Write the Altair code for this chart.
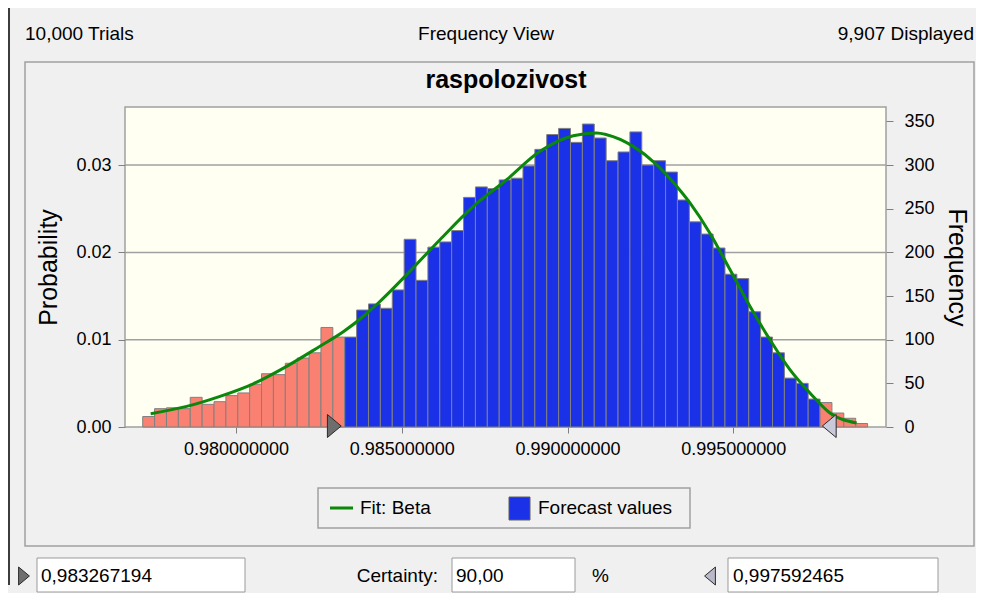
import altair as alt
import pandas as pd

FONT = "Liberation Sans"

# ---------------- text ----------------
trials_text = "10,000 Trials"
view_text = "Frequency View"
displayed_text = "9,907 Displayed"
chart_title = "raspolozivost"
prob_title = "Probability"
freq_title = "Frequency"
legend_fit = "Fit: Beta"
legend_forecast = "Forecast values"
certainty_label = "Certainty:"
certainty_value = "90,00"
percent_sign = "%"
cert_low_text = "0,983267194"
cert_high_text = "0,997592465"

# ---------------- data ----------------
bin_first = 0.977187
bin_width = 0.0003584
frequencies = [12, 21, 22, 21, 34, 26, 29, 36, 39, 49, 61, 60, 73, 79, 85, 114, 103,
               103, 134, 141, 136, 157, 215, 168, 206, 212, 225, 263, 275, 273, 283, 285,
               299, 318, 335, 342, 326, 347, 331, 305, 315, 338, 300, 305, 292, 260, 235,
               221, 205, 175, 170, 132, 103, 85, 56, 50, 32,
               28, 16, 10, 4]
cert_low = 0.983267194
cert_high = 0.997592465

fit_x = [0.977428, 0.978514, 0.979518, 0.980522, 0.981529, 0.982534, 0.983236, 0.983942,
         0.984292, 0.985148, 0.986152, 0.987157, 0.988164, 0.989168, 0.990172, 0.990878,
         0.991180, 0.991982, 0.992687, 0.993290, 0.993692, 0.994295, 0.994898, 0.995501,
         0.996104, 0.996707, 0.997311, 0.997914, 0.998719]
fit_freq = [15.2, 23.6, 35.1, 49.5, 69.5, 92.5, 109, 130, 142, 174.5, 214.5, 252.6, 283.2,
            315.7, 333.6, 336.7, 334.8, 321.4, 300.5, 275.7, 256.6, 222, 180.3, 138.3,
            100.1, 65.7, 39, 16.1, 4.6]

x_ticks = [0.980, 0.985, 0.990, 0.995]
prob_ticks = [0.00, 0.01, 0.02, 0.03]
grid_ticks = [0.01, 0.02, 0.03]
freq_ticks = [0, 50, 100, 150, 200, 250, 300, 350]

x_domain = [0.976653, 0.999605]
freq_domain = [0, 366.5]
prob_domain = [0, 0.03665]

BLUE = "#1b31e8"
SALMON = "#fa8072"
GREEN = "#0b870b"
GRAY = "#a0a0a0"

starts = [bin_first + i * bin_width for i in range(len(frequencies))]
bars_df = pd.DataFrame({
    "start": starts,
    "end": [s + bin_width for s in starts],
    "freq": frequencies,
    "base": [0] * len(frequencies),
})
bars_df["region"] = [
    "Forecast values" if cert_low <= s + bin_width / 2 <= cert_high else "tail"
    for s in starts
]
fit_df = pd.DataFrame({"x": fit_x, "f": fit_freq})

x_scale = alt.Scale(domain=x_domain, nice=False, zero=False)
freq_scale = alt.Scale(domain=freq_domain, nice=False)
prob_scale = alt.Scale(domain=prob_domain, nice=False)

one = pd.DataFrame({"k": [0]})


def txt(s, x, y, size, align="left", weight="normal", angle=0):
    return alt.Chart(one).mark_text(
        align=align, baseline="middle", fontSize=size, fontWeight=weight,
        color="black", font=FONT, angle=angle
    ).encode(x=alt.value(x), y=alt.value(y), text=alt.value(s))


def box(x1, x2, y1, y2, fill, stroke, sw=1.0, opacity=1.0):
    return alt.Chart(one).mark_rect(
        fill=fill, stroke=stroke, strokeWidth=sw, fillOpacity=opacity
    ).encode(x=alt.value(x1), x2=alt.value(x2), y=alt.value(y1), y2=alt.value(y2))


RIGHT_TRI = "M -0.6 -1 L 0.6 0 L -0.6 1 Z"
LEFT_TRI = "M 0.6 -1 L -0.6 0 L 0.6 1 Z"

# grid + left axis (probability)
grid = alt.Chart(pd.DataFrame({"p": grid_ticks})).mark_rule(
    color=GRAY, strokeWidth=1.5
).encode(
    y=alt.Y("p:Q", scale=prob_scale, axis=alt.Axis(
        orient="left", values=prob_ticks, format=".2f", title=prob_title,
        labelFontSize=18, labelColor="black", labelFont=FONT, labelPadding=7,
        tickSize=7, tickColor="#808080", domain=False, grid=False,
        titleFontSize=25, titleFontWeight="normal", titleFont=FONT,
        titleColor="black", titlePadding=14)),
)

bars = alt.Chart(bars_df).mark_rect(stroke="#808080", strokeWidth=1).encode(
    x=alt.X("start:Q", scale=x_scale, axis=alt.Axis(
        values=x_ticks, format=".9f", title=None, labelFontSize=18,
        labelColor="black", labelFont=FONT, labelPadding=7, tickSize=6,
        tickColor="#808080", domain=False, grid=False)),
    x2="end:Q",
    y=alt.Y("freq:Q", scale=freq_scale, axis=alt.Axis(
        orient="right", values=freq_ticks, format="d", title=freq_title,
        labelFontSize=18, labelColor="black", labelFont=FONT, labelPadding=11,
        tickSize=7, tickColor="#808080", domain=False, grid=False,
        titleFontSize=25, titleFontWeight="normal", titleFont=FONT,
        titleColor="black", titlePadding=9)),
    y2="base:Q",
    color=alt.Color("region:N", scale=alt.Scale(
        domain=["Forecast values", "tail"], range=[BLUE, SALMON]), legend=None),
)

fit = alt.Chart(fit_df).mark_line(
    color=GREEN, strokeWidth=3, interpolate="monotone"
).encode(
    x=alt.X("x:Q", scale=x_scale),
    y=alt.Y("f:Q", scale=freq_scale, axis=None),
)

low_marker = alt.Chart(pd.DataFrame({"v": [cert_low]})).mark_point(
    shape=RIGHT_TRI, size=529, filled=True, fill="#6e6e6e", stroke="#2a2a2a",
    strokeWidth=1, opacity=1, xOffset=-10
).encode(x=alt.X("v:Q", scale=x_scale), y=alt.value(319))

high_marker = alt.Chart(pd.DataFrame({"v": [cert_high]})).mark_point(
    shape=LEFT_TRI, size=529, filled=True, fill="#c9c9dc", stroke="#2a2a2a",
    strokeWidth=1, opacity=1, xOffset=10
).encode(x=alt.X("v:Q", scale=x_scale), y=alt.value(319))

# ---------------- decorations (pixel positions relative to plot area) -------------
window_edge = alt.Chart(one).mark_rule(color="black", strokeWidth=1.5).encode(
    x=alt.value(-116), y=alt.value(-107), y2=alt.value(478))
panel = box(-100, 849, -45, 439, "#f0f0f0", GRAY, 1.5, 0)

header = [
    txt(trials_text, -100, -73, 19),
    txt(view_text, 361, -73, 19, align="center"),
    txt(displayed_text, 849, -73, 19, align="right"),
    txt(chart_title, 381, -27, 25, align="center", weight="bold"),
]

legend = [
    box(193, 565, 381, 421, "#f0f0f0", GRAY, 1.5),
    alt.Chart(one).mark_rule(color=GREEN, strokeWidth=3).encode(
        x=alt.value(205), x2=alt.value(228), y=alt.value(401)),
    txt(legend_fit, 235, 401, 19),
    box(384, 405, 390, 413, BLUE, "#606060", 1),
    txt(legend_forecast, 413, 401, 19),
]

bottom = [
    box(-88, 120, 451, 485, "white", "#9a9a9a", 1),
    box(327, 450, 451, 485, "white", "#9a9a9a", 1),
    box(603, 813, 451, 485, "white", "#9a9a9a", 1),
    txt(cert_low_text, -84, 469, 19),
    txt(certainty_label, 313, 469, 19, align="right"),
    txt(certainty_value, 331, 469, 19),
    txt(percent_sign, 467, 469, 19),
    txt(cert_high_text, 608, 469, 19),
    alt.Chart(one).mark_point(shape=RIGHT_TRI, size=324, filled=True, fill="#6e6e6e",
                              stroke="#2a2a2a", strokeWidth=1, opacity=1).encode(
        x=alt.value(-101), y=alt.value(469)),
    alt.Chart(one).mark_point(shape=LEFT_TRI, size=324, filled=True, fill="#b8b8c8",
                              stroke="#2a2a2a", strokeWidth=1, opacity=1).encode(
        x=alt.value(585), y=alt.value(469)),
]

chart = alt.layer(
    panel, window_edge, grid, bars, fit, low_marker, high_marker,
    *header, *legend, *bottom
).resolve_scale(
    y="independent"
).properties(
    width=761, height=320,
    autosize=alt.AutoSizeParams(type="none"),
    padding={"left": 117, "top": 99, "right": 90, "bottom": 166},
).configure(
    background="#f0f0f0", font=FONT
).configure_view(
    fill="#fffff2", stroke=GRAY, strokeWidth=1.5
)

chart.save("out.html", embed_options={"renderer": "svg", "actions": False})
